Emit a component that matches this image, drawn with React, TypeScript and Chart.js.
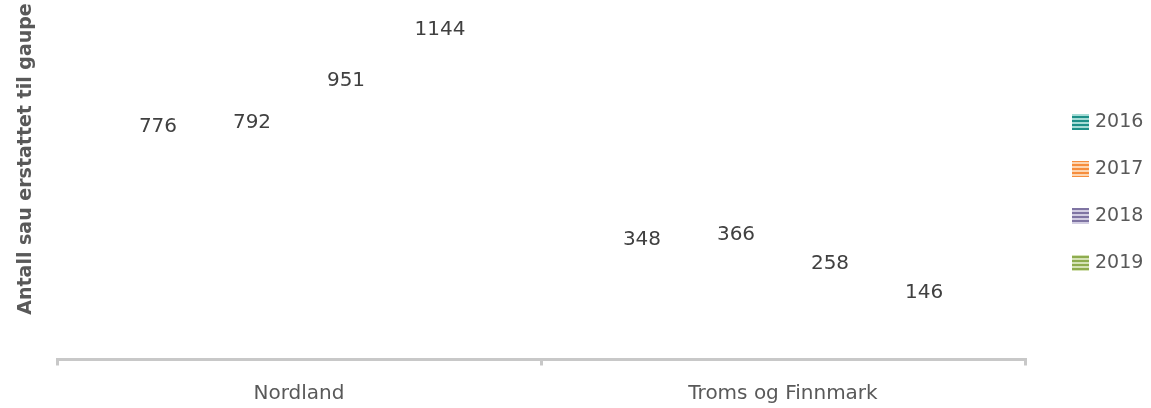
import { useEffect, useRef } from "react";
import { Chart, registerables } from "chart.js";

Chart.register(...registerables);

const categories = ["Nordland", "Troms og Finnmark"];
const years = ["2016", "2017", "2018", "2019"];
const values2016 = [776, 348];
const values2017 = [792, 366];
const values2018 = [951, 258];
const values2019 = [1144, 146];
const seriesValues = [values2016, values2017, values2018, values2019];
const stripeDark = ["#1e9088", "#f68e3e", "#7f74a3", "#8eac4f"];
const stripeLight = ["#a6dcd6", "#fdd6b2", "#d2cde2", "#d5e2b6"];
const yTitle = "Antall sau erstattet til gaupe";

const FONT = "'DejaVu Sans', Verdana, sans-serif";

function makePattern(dark: string, light: string): CanvasPattern | string {
  const c = document.createElement("canvas");
  c.width = 4;
  c.height = 4;
  const g = c.getContext("2d");
  if (!g) return dark;
  g.fillStyle = dark;
  g.fillRect(0, 0, 4, 2);
  g.fillStyle = light;
  g.fillRect(0, 2, 4, 2);
  const ctx = document.createElement("canvas").getContext("2d");
  const p = ctx ? ctx.createPattern(c, "repeat") : null;
  return p || dark;
}

export default function App() {
  const canvasRef = useRef<HTMLCanvasElement | null>(null);

  useEffect(() => {
    const canvas = canvasRef.current;
    if (!canvas) return;
    const patterns = years.map((_, i) => makePattern(stripeDark[i], stripeLight[i]));

    const labelPlugin = {
      id: "valueLabels",
      afterDatasetsDraw(chart: any) {
        const ctx = chart.ctx;
        ctx.save();
        ctx.font = `20px ${FONT}`;
        ctx.fillStyle = "#404040";
        ctx.textAlign = "center";
        ctx.textBaseline = "middle";
        chart.data.datasets.forEach((ds: any, di: number) => {
          const meta = chart.getDatasetMeta(di);
          meta.data.forEach((el: any, i: number) => {
            ctx.fillText(String(ds.data[i]), el.x, el.y - 28);
          });
        });
        ctx.restore();
      },
    };

    const decorPlugin = {
      id: "decor",
      afterDraw(chart: any) {
        const ctx = chart.ctx;
        // y axis title
        ctx.save();
        ctx.translate(26, 159);
        ctx.rotate(-Math.PI / 2);
        ctx.font = `bold 19px ${FONT}`;
        ctx.fillStyle = "#595959";
        ctx.textAlign = "center";
        ctx.textBaseline = "middle";
        ctx.fillText(yTitle, 0, 0);
        ctx.restore();
        // legend
        ctx.save();
        ctx.font = `19px ${FONT}`;
        ctx.textBaseline = "middle";
        ctx.textAlign = "left";
        const x0 = chart.chartArea.right + 47;
        const yStart = 122;
        const step = 47;
        chart.data.datasets.forEach((ds: any, i: number) => {
          const cy = yStart + i * step;
          ctx.fillStyle = patterns[i];
          ctx.fillRect(x0, cy - 8, 17, 16);
          ctx.fillStyle = "#595959";
          ctx.fillText(ds.label, x0 + 23, cy);
        });
        ctx.restore();
      },
    };

    const chart = new Chart(canvas, {
      type: "bar",
      data: {
        labels: categories,
        datasets: years.map((y, i) => ({
          label: y,
          data: seriesValues[i],
          backgroundColor: "rgba(0,0,0,0)",
          borderWidth: 0,
          categoryPercentage: 0.777,
          barPercentage: 0.8,
        })),
      },
      options: {
        responsive: false,
        animation: false,
        layout: { padding: { left: 57, right: 126, top: 16.3, bottom: -13.5 } },
        plugins: {
          legend: { display: false },
          tooltip: { enabled: false },
          title: { display: false },
        },
        scales: {
          x: {
            grid: {
              display: true,
              drawOnChartArea: false,
              drawTicks: true,
              tickLength: 6,
              lineWidth: 3,
              color: "#c8c8c8",
              offset: true,
            },
            border: { display: true, color: "#c8c8c8", width: 3 },
            ticks: {
              font: { family: FONT, size: 20 },
              color: "#595959",
              padding: 16,
            },
          },
          y: {
            display: false,
            min: 0,
            max: 1300,
          },
        },
      },
      plugins: [labelPlugin, decorPlugin],
    });

    return () => chart.destroy();
  }, []);

  return (
    <div style={{ position: "absolute", left: 0, top: 0, width: 1151, height: 408, background: "#ffffff" }}>
      <canvas ref={canvasRef} width={1151} height={408} />
    </div>
  );
}
